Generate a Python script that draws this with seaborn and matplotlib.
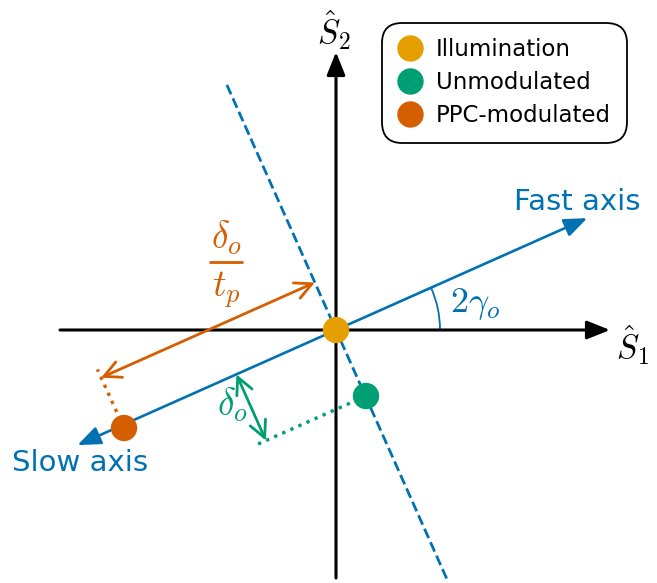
import numpy as np
import pandas as pd
import matplotlib
matplotlib.use("Agg")
import matplotlib.pyplot as plt
from matplotlib.patches import Arc
import seaborn as sns

sns.set_theme(style="white")
plt.rcParams["font.family"] = ["DejaVu Sans"]
plt.rcParams["mathtext.fontset"] = "cm"
plt.rcParams["text.color"] = "black"

# Stokes-plane states (drawing units, origin at the illumination state)
states = ["Illumination", "Unmodulated", "PPC-modulated"]
state_x = [0.0, 30.0, -212.0]
state_y = [0.0, -66.0, -98.0]
state_colors = ["#E69F00", "#009E73", "#D55E00"]

axis_color = "#0072B2"
two_gamma_deg = 24.0          # orientation of the fast axis
fast_len, slow_len = 275.0, 283.0
perp_span = (-272.0, 270.0)   # dashed line perpendicular to the fast axis
retard_t = -109.0             # position of the delta_o marker along the axis
retard_n = -72.5              # offset of the unmodulated state from the axis
ppc_t = -234.0                # position of the modulated state along the axis
ppc_n = 52.0                  # offset of the delta_o / t_p arrow

u = np.array([np.cos(np.radians(two_gamma_deg)), np.sin(np.radians(two_gamma_deg))])
n = np.array([-u[1], u[0]])

fig = plt.figure(figsize=(6.57, 5.83), dpi=100)
ax = fig.add_axes([0, 0, 1, 1])
ax.set_xlim(-336, 321)
ax.set_ylim(-253, 330)
ax.axis("off")


def arrow(p0, p1, style, color, lw, ms=20, z=2):
    ax.annotate("", xy=p1, xytext=p0,
                arrowprops=dict(arrowstyle=style, color=color, lw=lw,
                                shrinkA=0, shrinkB=0, mutation_scale=ms),
                zorder=z)


# S1 / S2 axes
arrow((-276, 0), (274, 0), "-|>,head_length=0.7,head_width=0.28", "black", 2.2)
arrow((0, -248), (0, 278), "-|>,head_length=0.7,head_width=0.28", "black", 2.2)
ax.text(297, -15, r"$\hat{S}_1$", fontsize=24, ha="center", va="center")
ax.text(-2, 300, r"$\hat{S}_2$", fontsize=24, ha="center", va="center")

# fast / slow axis
arrow(tuple(-slow_len * u), tuple(fast_len * u), "<|-|>,head_length=0.7,head_width=0.28", axis_color, 1.9)
ax.text(241, 128, "Fast axis", fontsize=21, color=axis_color, ha="center", va="center")
ax.text(-324, -133, "Slow axis", fontsize=21, color=axis_color, ha="left", va="center")

# perpendicular through the origin
p_a, p_b = perp_span[0] * n, perp_span[1] * n
ax.plot([p_a[0], p_b[0]], [p_a[1], p_b[1]], ls="--", color=axis_color, lw=2.0, zorder=1)

# angle 2*gamma_o
ax.add_patch(Arc((0, 0), 208, 208, theta1=0, theta2=two_gamma_deg, color=axis_color, lw=1.3))
ax.text(139, 26, r"$2\gamma_o$", fontsize=26, color=axis_color, ha="center", va="center")

# unmodulated retardance marker
g = np.array([state_x[1], state_y[1]])
g_end = retard_n * n + (retard_t - 12) * u
ax.plot([g[0], g_end[0]], [g[1], g_end[1]], ls=":", color=state_colors[1], lw=2.4, zorder=1)
arrow(tuple(retard_t * u), tuple(retard_t * u + retard_n * n), "<->,head_length=0.6,head_width=0.3",
      state_colors[1], 2.0)
ax.text(-104, -75, r"$\delta_o$", fontsize=27, color=state_colors[1], ha="center", va="center")

# PPC-modulated displacement
o = np.array([state_x[2], state_y[2]])
o_end = ppc_t * u + (ppc_n + 9) * n
ax.plot([o[0], o_end[0]], [o[1], o_end[1]], ls=":", color=state_colors[2], lw=2.4, zorder=1)
arrow(tuple(ppc_n * n), tuple(ppc_t * u + ppc_n * n), "<->,head_length=0.6,head_width=0.3",
      state_colors[2], 2.0)
# delta_o / t_p written as a stacked fraction
ax.text(-110, 92, r"$\delta_o$", fontsize=27, color=state_colors[2], ha="center", va="center")
ax.plot([-127, -93], [68, 68], color=state_colors[2], lw=2.0, solid_capstyle="butt")
ax.text(-110, 40, r"$t_p$", fontsize=27, color=state_colors[2], ha="center", va="center")

# states
df = pd.DataFrame({"x": state_x, "y": state_y, "state": states})
sns.scatterplot(data=df, x="x", y="y", hue="state", hue_order=states,
                palette=state_colors, s=360, edgecolor="none", zorder=5, ax=ax, legend=True)
ax.set_xlabel("")
ax.set_ylabel("")

handles, labels = ax.get_legend_handles_labels()
for h in handles:
    h.set_markersize(19)
leg = ax.legend(handles, labels, loc="upper right", bbox_to_anchor=(0.954, 0.961),
                fontsize=16.5, frameon=True, handletextpad=0.6, labelspacing=0.43,
                borderpad=0.68, handlelength=1.1, borderaxespad=0)
for t in leg.get_texts():
    t.set_color("black")
frame = leg.get_frame()
frame.set_edgecolor("black")
frame.set_linewidth(1.3)
frame.set_alpha(1)
frame.set_boxstyle("round,pad=0,rounding_size=0.9")

fig.savefig("out.png", dpi=100)
